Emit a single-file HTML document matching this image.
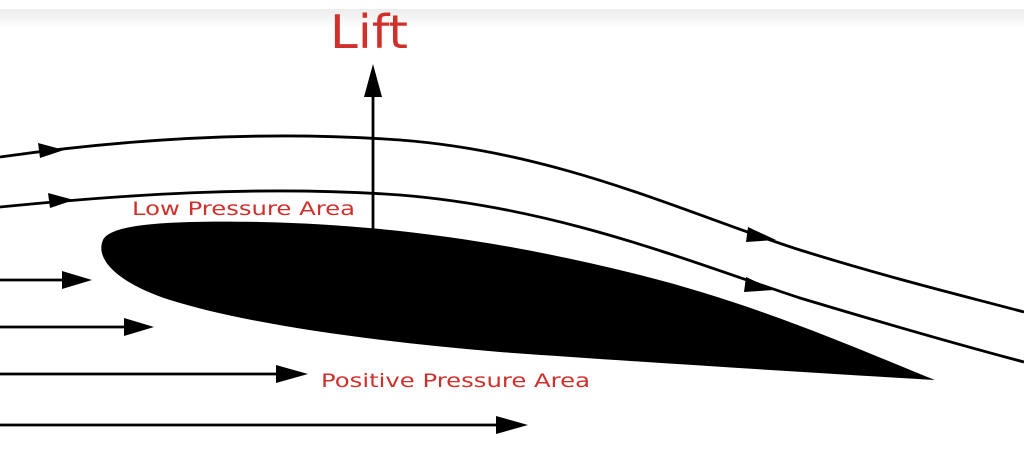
<!DOCTYPE html>
<html><head><style>
body{margin:0;width:1024px;height:465px;overflow:hidden;background:#fff;}
.top{position:absolute;left:0;top:9px;width:1024px;height:20px;background:linear-gradient(#ececec,#fff);}
</style></head><body>
<div class="top"></div>
<svg width="1024" height="465" style="position:absolute;left:0;top:0" xmlns="http://www.w3.org/2000/svg">
<g fill="none" stroke="#000" stroke-width="2.8">
<path d="M0,157 C120,140 260,130 400,140 C560,152 690,215 800,250 C890,278 960,295 1024,312"/>
<path d="M0,207 C120,195 260,185 400,195 C560,208 690,262 800,298 C890,325 960,345 1024,362"/>
<line x1="0" y1="280" x2="70" y2="280"/>
<line x1="0" y1="327" x2="130" y2="327"/>
<line x1="0" y1="374" x2="280" y2="374"/>
<line x1="0" y1="425" x2="500" y2="425"/>
<line x1="373" y1="232" x2="373" y2="90"/>
</g>
<g fill="#000">
<polygon points="92,280 62,271 62,289"/>
<polygon points="154,327 124,318 124,336"/>
<polygon points="308,374 276,365 276,383"/>
<polygon points="528,425 496,416 496,434"/>
<polygon points="373,64 364,97 382,97"/>
<polygon points="64,150 38,143 40,158"/>
<polygon points="74,200 48,193 50,208"/>
<polygon points="776,240 748,227 746,242"/>
<polygon points="774,290 746,277 744,292"/>
<path d="M103,240 C110,225 160,220 260,222 C400,225 520,245 640,275 C760,305 860,350 935,380 C800,372 640,362 500,352 C380,342 250,325 170,300 C115,282 95,258 103,240 Z"/>
</g>
<g font-family="DejaVu Sans, sans-serif" fill="#d0302c">
<text x="330" y="48" font-size="46" textLength="78" lengthAdjust="spacingAndGlyphs">Lift</text>
<text x="132" y="215" font-size="19" textLength="223" lengthAdjust="spacingAndGlyphs">Low Pressure Area</text>
<text x="321" y="387" font-size="19" textLength="269" lengthAdjust="spacingAndGlyphs">Positive Pressure Area</text>
</g>
</svg>
</body></html>
